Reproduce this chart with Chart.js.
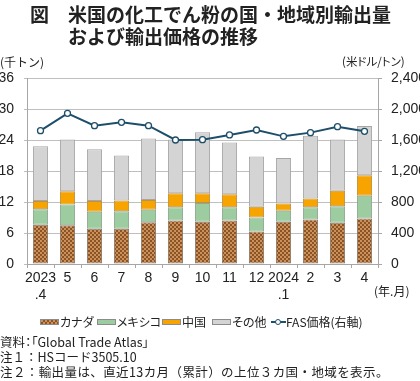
<!DOCTYPE html>
<html><head><meta charset="utf-8">
<script src="https://cdn.jsdelivr.net/npm/chart.js@4"></script>
<style>
html,body{margin:0;padding:0;background:#fff;}
#wrap{position:relative;width:420px;height:381px;overflow:hidden;font-family:"Noto Sans CJK JP",sans-serif;color:#222;}
#wrap canvas{position:absolute;left:0;top:0;}
.t{position:absolute;white-space:nowrap;line-height:1;}
.p{font-feature-settings:"palt";}
.sw{position:absolute;height:6px;box-sizing:border-box;border:1px solid #8c8c8c;}
</style></head>
<body>
<div id="wrap">
<canvas id="c" width="420" height="381"></canvas>
<div class="t" style="left:30px;top:4px;font-size:19px;font-weight:bold;">図</div>
<div class="t" style="left:68px;top:4px;font-size:19px;font-weight:bold;">米国の化工でん粉の国・地域別輸出量</div>
<div class="t" style="left:68px;top:26px;font-size:19px;font-weight:bold;">および輸出価格の推移</div>
<div class="t" style="left:0px;top:56px;font-size:12px;">(千トン)</div>
<div class="t p" style="left:342px;top:56px;font-size:11.5px;">(米ドル/トン)</div>
<div class="t" style="left:374px;top:285px;font-size:12px;">(年.月)</div>

<div class="sw" style="left:40px;top:319px;width:19px;background:repeating-conic-gradient(#8d5226 0 25%,#c9925a 0 50%) 0 0/4px 4px;"></div>
<div class="t p" style="left:60px;top:316px;font-size:12px;">カナダ</div>
<div class="sw" style="left:97px;top:319px;width:19px;background:#9ccc9f;"></div>
<div class="t p" style="left:117px;top:316px;font-size:12px;">メキシコ</div>
<div class="sw" style="left:162px;top:319px;width:19px;background:#f7a400;"></div>
<div class="t p" style="left:182px;top:316px;font-size:12px;">中国</div>
<div class="sw" style="left:212px;top:319px;width:19px;background:#d4d4d4;"></div>
<div class="t p" style="left:232px;top:316px;font-size:12px;">その他</div>
<div style="position:absolute;left:271px;top:321px;width:15px;height:2px;background:#1d4e6a;"></div>
<div style="position:absolute;left:275px;top:319px;width:4px;height:4px;border:1.3px solid #1d4e6a;border-radius:50%;background:#fff;"></div>
<div class="t p" style="left:286px;top:316px;font-size:12px;">FAS価格(右軸)</div>

<div class="t p" style="left:0px;top:336px;font-size:12.5px;">資料：「Global Trade Atlas」</div>
<div class="t" style="left:0px;top:351px;font-size:12.5px;">注１：HSコード3505.10</div>
<div class="t" style="left:0px;top:366px;font-size:12.5px;letter-spacing:0.4px;">注２：輸出量は、直近13カ月（累計）の上位３カ国・地域を表示。</div>
</div>
<script>
const months = [["2023",".4"],"5","6","7","8","9","10","11","12",["2024",".1"],"2","3","4"];
const canada = [7.6,7.5,6.8,6.8,8.1,8.4,8.2,8.4,6.3,8.2,8.6,8.0,8.8];
const mexico = [3.0,4.0,3.3,3.4,2.4,2.6,3.6,2.6,2.7,2.1,2.4,3.2,4.4];
const china  = [1.6,2.6,2.1,2.1,1.9,2.7,1.9,2.5,2.1,1.4,1.7,3.0,4.0];
const other  = [10.6,10.0,10.0,8.7,11.9,10.4,11.8,10.0,9.7,8.8,12.1,9.9,9.5];
const fasPrice = [1720,1944,1785,1828,1785,1600,1604,1665,1729,1647,1695,1772,1712];
const leftTicks = [0,6,12,18,24,30,36];
const rightTicks = [0,400,800,1200,1600,2000,2400];

function checker(){
  const p=document.createElement('canvas');p.width=4;p.height=4;
  const g=p.getContext('2d');
  g.fillStyle='#8d5226';g.fillRect(0,0,4,4);
  g.fillStyle='#c9925a';g.fillRect(0,0,2,2);g.fillRect(2,2,2,2);
  return g.createPattern(p,'repeat');
}
const numFont={family:"'Liberation Sans Narrow','Liberation Sans',Arial,sans-serif",size:14};
const barCommon={stack:'s',yAxisID:'y',borderWidth:1,borderSkipped:false,barPercentage:0.56,categoryPercentage:1,order:1};
new Chart(document.getElementById('c'),{
  type:'bar',
  data:{labels:months,datasets:[
    {label:'カナダ',data:canada,backgroundColor:checker(),borderColor:'#8f7c6a',...barCommon},
    {label:'メキシコ',data:mexico,backgroundColor:'#9ccc9f',borderColor:'#8fa892',...barCommon},
    {label:'中国',data:china,backgroundColor:'#f7a400',borderColor:'#c0923e',...barCommon},
    {label:'その他',data:other,backgroundColor:'#d4d4d4',borderColor:'#a6a6a6',...barCommon},
    {type:'line',label:'FAS価格(右軸)',data:fasPrice,yAxisID:'y1',borderColor:'#1d4e6a',borderWidth:2,
     pointRadius:3,pointBackgroundColor:'#fff',pointBorderColor:'#1d4e6a',pointBorderWidth:1.3,tension:0,order:0}
  ]},
  options:{
    responsive:false,animation:false,
    layout:{padding:{top:78,bottom:0,left:0,right:0}},
    plugins:{legend:{display:false},tooltip:{enabled:false}},
    scales:{
      x:{stacked:true,offset:true,
        grid:{display:true,drawOnChartArea:false,drawTicks:true,tickLength:4,color:'#a6a6a6',offset:true},
        border:{display:true,color:'#a6a6a6'},
        ticks:{font:numFont,color:'#222',padding:2,maxRotation:0,autoSkip:false},
        afterFit(s){s.height=117;}
      },
      y:{position:'left',stacked:true,min:0,max:36,
        afterBuildTicks(s){s.ticks=leftTicks.map(v=>({value:v}));},
        grid:{color:'#bfbfbf',tickLength:3},
        border:{display:true,color:'#a6a6a6'},
        ticks:{font:numFont,color:'#222',padding:10},
        afterFit(s){s.width=27;}
      },
      y1:{position:'right',min:0,max:2400,
        afterBuildTicks(s){s.ticks=rightTicks.map(v=>({value:v}));},
        grid:{drawOnChartArea:false,color:'#a6a6a6',tickLength:4},
        border:{display:true,color:'#a6a6a6'},
        ticks:{font:numFont,color:'#222',padding:9,callback:v=>v.toLocaleString('en-US')},
        afterFit(s){s.width=42;}
      }
    }
  }
});
</script>
</body></html>
